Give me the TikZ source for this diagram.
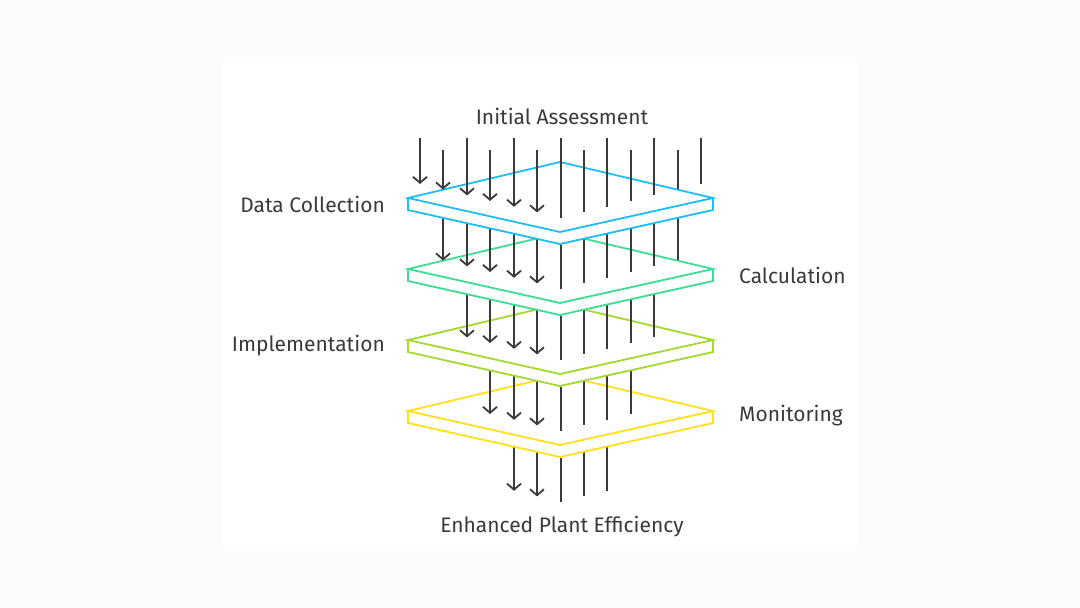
\documentclass[tikz,border=0pt]{standalone}
\usepackage{fontspec}
\setmainfont{Fira Sans}
\usetikzlibrary{arrows.meta}
\definecolor{bg}{HTML}{FBFCFC}
\definecolor{ink}{HTML}{3A3A3A}
\definecolor{pA}{HTML}{1EBEF5}
\definecolor{pB}{HTML}{3DDC97}
\definecolor{pC}{HTML}{A3D930}
\definecolor{pD}{HTML}{FFE01A}
\tikzset{
  flow/.style={draw=ink,line width=1.8pt},
  arr/.style={flow,-{Straight Barb[length=6pt,width=14pt,line width=1.8pt]}},
  plate/.style={line width=1.8pt,line join=miter},
  lbl/.style={font=\fontsize{21}{24}\selectfont,text=ink,inner sep=0pt}
}
\begin{document}
\begin{tikzpicture}[x=1pt,y=-1pt]
\fill[bg] (0,0) rectangle (1080,608);
\fill[white] (222,62) rectangle (858,546);
\useasboundingbox (0,0) rectangle (1080,608);
\newcommand{\seg}[1]{%
  \pgfmathtruncatemacro{\ilo}{#1-1}%
  \pgfmathtruncatemacro{\ihi}{13-#1}%
  \foreach \i in {\ilo,...,\ihi}{%
    \pgfmathsetmacro{\xx}{round(420+23.42*\i)}%
    \pgfmathsetmacro{\dd}{0.243*abs(\xx-560)}%
    \pgfmathsetmacro{\ce}{198+71*(#1-1)}%
    \pgfmathsetmacro{\ye}{\ce+20-\dd}%
    \ifnum#1=1
      \pgfmathsetmacro{\ys}{ifthenelse(mod(\i,2)==0,138,150)}%
    \else
      \pgfmathsetmacro{\ys}{\ce-71+47-\dd}%
    \fi
    \coordinate (s#1-\i) at (\xx,\ys);
    \coordinate (e#1-\i) at (\xx,\ye);
    \ifnum\i<6 \draw[arr] (s#1-\i) -- (e#1-\i);
    \else \draw[flow] (s#1-\i) -- (e#1-\i);\fi
  }}
\newcommand{\plate}[2]{%
  \pgfmathsetmacro{\c}{198+71*(#1-1)}%
  \fill[white] (408,\c) -- (560,\c-36) -- (713,\c) -- (713,\c+12) -- (560,\c+46) -- (408,\c+12) -- cycle;
  \draw[plate,#2] (408,\c) -- (560,\c-36) -- (713,\c) -- (560,\c+34) -- cycle;
  \draw[plate,#2] (408,\c) -- (408,\c+12) -- (560,\c+46) -- (713,\c+12) -- (713,\c);
}
\seg{5}
\plate{4}{pD}
\seg{4}
\plate{3}{pC}
\seg{3}
\plate{2}{pB}
\seg{2}
\plate{1}{pA}
\seg{1}
\node[lbl] (t0) at (562,116) {Initial Assessment};
\node[lbl,anchor=east] (t1) at (385,204) {Data Collection};
\node[lbl,anchor=west] (t2) at (739,275) {Calculation};
\node[lbl,anchor=east] (t3) at (385,346) {Implementation};
\node[lbl,anchor=west] (t4) at (739,416) {Monitoring};
\node[lbl] (t5) at (562,527) {Enhanced Plant Efficiency};
\end{tikzpicture}
\end{document}
